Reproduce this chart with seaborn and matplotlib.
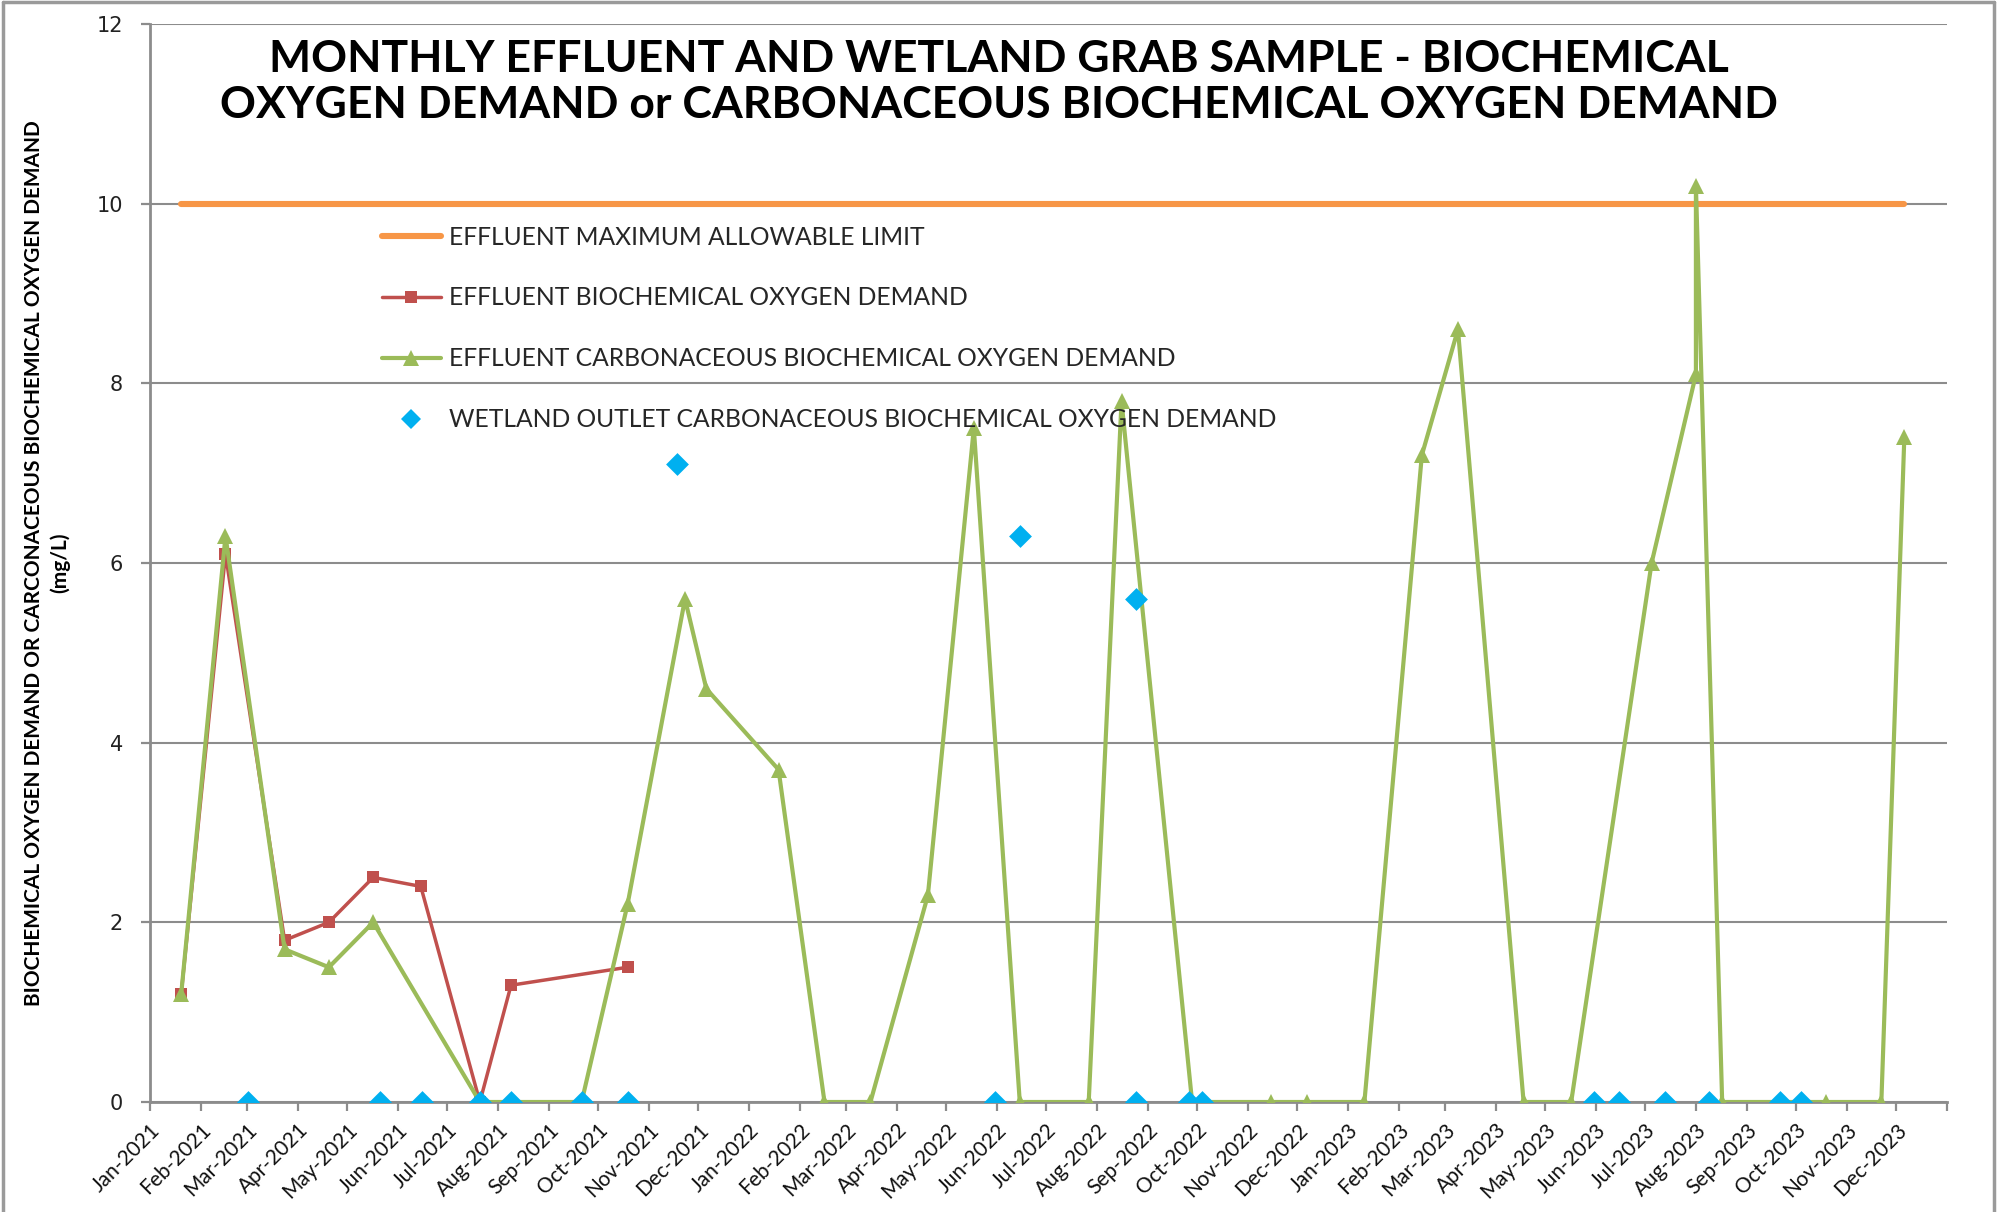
import matplotlib
matplotlib.use("Agg")
import matplotlib.pyplot as plt
import matplotlib.transforms as mtransforms
from matplotlib.lines import Line2D
import seaborn as sns
import pandas as pd

# ---------------- data ----------------
limit_dates = ["2021-01-20", "2023-12-06"]
limit_vals = [10, 10]

bod_dates = ["2021-01-20", "2021-02-16", "2021-03-24", "2021-04-20", "2021-05-17",
             "2021-06-15", "2021-07-21", "2021-08-09", "2021-10-19"]
bod_vals = [1.2, 6.1, 1.8, 2.0, 2.5, 2.4, 0.0, 1.3, 1.5]

cbod_dates = ["2021-01-20", "2021-02-16", "2021-03-24", "2021-04-20", "2021-05-17",
              "2021-07-21", "2021-09-21", "2021-10-19", "2021-11-23", "2021-12-06",
              "2022-01-19", "2022-02-16", "2022-03-16", "2022-04-20", "2022-05-18",
              "2022-06-15", "2022-07-27", "2022-08-16", "2022-09-28", "2022-11-15",
              "2022-12-07", "2023-01-11", "2023-02-15", "2023-03-09", "2023-04-18",
              "2023-05-17", "2023-07-05", "2023-08-01", "2023-08-01", "2023-08-17",
              "2023-10-19", "2023-11-22", "2023-12-06"]
cbod_vals = [1.2, 6.3, 1.7, 1.5, 2.0,
             0.0, 0.0, 2.2, 5.6, 4.6,
             3.7, 0.0, 0.0, 2.3, 7.5,
             0.0, 0.0, 7.8, 0.0, 0.0,
             0.0, 0.0, 7.2, 8.6, 0.0,
             0.0, 6.0, 8.1, 10.2, 0.0,
             0.0, 0.0, 7.4]

wet_dates = ["2021-03-02", "2021-05-21", "2021-06-16", "2021-07-21", "2021-08-09",
             "2021-09-21", "2021-10-19", "2021-11-18", "2022-05-31", "2022-06-15",
             "2022-08-25", "2022-08-25", "2022-09-26", "2022-10-04", "2023-05-31",
             "2023-06-15", "2023-07-13", "2023-08-09", "2023-09-21", "2023-10-04"]
wet_vals = [0.0, 0.0, 0.0, 0.0, 0.0,
            0.0, 0.0, 7.1, 0.0, 6.3,
            0.0, 5.6, 0.0, 0.0, 0.0,
            0.0, 0.0, 0.0, 0.0, 0.0]

labels = ["EFFLUENT MAXIMUM ALLOWABLE LIMIT",
          "EFFLUENT BIOCHEMICAL OXYGEN DEMAND",
          "EFFLUENT CARBONACEOUS BIOCHEMICAL OXYGEN DEMAND",
          "WETLAND OUTLET CARBONACEOUS BIOCHEMICAL OXYGEN DEMAND"]

title = ("MONTHLY EFFLUENT AND WETLAND GRAB SAMPLE - BIOCHEMICAL\n"
         "OXYGEN DEMAND or CARBONACEOUS BIOCHEMICAL OXYGEN DEMAND")
ylabel = ("BIOCHEMICAL OXYGEN DEMAND OR CARCONACEOUS BIOCHEMICAL OXYGEN DEMAND\n"
          "(mg/L)")

C_LIMIT = "#F79646"
C_BOD = "#C0504D"
C_CBOD = "#9BBB59"
C_WET = "#00B0F0"
C_GRID = "#8C8C8C"

# ---------------- frames ----------------
df_limit = pd.DataFrame({"date": pd.to_datetime(limit_dates), "v": limit_vals})
df_bod = pd.DataFrame({"date": pd.to_datetime(bod_dates), "v": bod_vals})
df_cbod = pd.DataFrame({"date": pd.to_datetime(cbod_dates), "v": cbod_vals})
df_wet = pd.DataFrame({"date": pd.to_datetime(wet_dates), "v": wet_vals})

sns.set_style("white")
plt.rcParams["font.family"] = ["DejaVu Sans"]

narrow = ["Liberation Sans Narrow", "Lato", "DejaVu Sans"]
calib = ["Lato", "DejaVu Sans"]

fig = plt.figure(figsize=(19.97, 12.12), dpi=100)
ax = fig.add_axes([150 / 1997, 1 - 1102 / 1212, 1797 / 1997, 1078 / 1212])

LW_LIMIT, LW_BOD, LW_CBOD = 4.4, 2.5, 3.0

sns.lineplot(data=df_limit, x="date", y="v", ax=ax, color=C_LIMIT, lw=LW_LIMIT,
             estimator=None, sort=False, solid_capstyle="round", zorder=3)
sns.lineplot(data=df_bod, x="date", y="v", ax=ax, color=C_BOD, lw=LW_BOD,
             marker="s", markersize=8.5, markeredgewidth=0, markerfacecolor=C_BOD,
             estimator=None, sort=False, zorder=4)
sns.lineplot(data=df_cbod, x="date", y="v", ax=ax, color=C_CBOD, lw=LW_CBOD,
             marker="^", markersize=11.5, markeredgewidth=0, markerfacecolor=C_CBOD,
             estimator=None, sort=False, zorder=5)
sns.scatterplot(data=df_wet, x="date", y="v", ax=ax, color=C_WET, marker="D",
                s=135, linewidth=0, zorder=6)

# ---------------- axes ----------------
ax.set_ylim(0, 12)
ax.set_yticks([0, 2, 4, 6, 8, 10, 12])
ax.set_xlim(pd.Timestamp("2021-01-01"), pd.Timestamp("2024-01-01"))
month_ticks = pd.date_range("2021-01-01", "2024-01-01", freq="MS")
tick_labels = [d.strftime("%b-%Y") for d in month_ticks[:-1]] + [""]
ax.set_xticks(month_ticks)
ax.set_xticklabels(tick_labels, rotation=45, ha="right", va="top",
                   rotation_mode="anchor", family=calib, fontsize=15, color="#111111")
offset = mtransforms.ScaledTranslation(6 / 100, 0, fig.dpi_scale_trans)
for lab in ax.get_xticklabels():
    lab.set_transform(lab.get_transform() + offset)
for t in ax.get_yticklabels():
    t.set_fontsize(15)
    t.set_color("#222222")

ax.set_xlabel("")
ax.set_ylabel("")
ax.yaxis.grid(True, color=C_GRID, lw=1.5)
ax.xaxis.grid(False)
for s in ["top", "right"]:
    ax.spines[s].set_visible(False)
for s in ["left", "bottom"]:
    ax.spines[s].set_color(C_GRID)
    ax.spines[s].set_linewidth(2.0)
ax.tick_params(axis="both", which="both", direction="out", length=6.5, width=1.6,
               color=C_GRID, bottom=True, left=True)
ax.tick_params(axis="x", pad=6.5)
ax.tick_params(axis="y", pad=13)

# ---------------- legend ----------------
handles = [
    Line2D([], [], color=C_LIMIT, lw=LW_LIMIT, solid_capstyle="round"),
    Line2D([], [], color=C_BOD, lw=LW_BOD, marker="s", markersize=8.5, markeredgewidth=0),
    Line2D([], [], color=C_CBOD, lw=LW_CBOD, marker="^", markersize=11.5, markeredgewidth=0),
    Line2D([], [], color=C_WET, lw=0, marker="D", markersize=10, markeredgewidth=0),
]
ax.legend(handles, labels, loc="upper left", bbox_to_anchor=(0.129, 0.813),
          frameon=False, prop={"family": calib, "size": 17.7}, handlelength=2.4,
          handletextpad=0.32, labelspacing=1.54, borderaxespad=0, borderpad=0)

# ---------------- texts ----------------
fig.text(0.5, 1 - 82 / 1212, title, ha="center", va="center", fontsize=32,
         fontweight="bold", family=narrow, linespacing=1.16, color="#000000")
fig.text(47 / 1997, 1 - 563 / 1212, ylabel, rotation=90, ha="center", va="center",
         multialignment="center", fontsize=15, fontweight="bold", family=narrow,
         linespacing=1.3, color="#000000")

# outer border (left, top, right)
for xs, ys in [([0.0015, 0.0015], [0, 0.9985]), ([0.0015, 0.9985], [0.9985, 0.9985]),
               ([0.9985, 0.9985], [0.9985, 0])]:
    fig.add_artist(Line2D(xs, ys, transform=fig.transFigure, color="#9a9a9a", lw=2.5))

fig.savefig("out.png", dpi=100, facecolor="white")
